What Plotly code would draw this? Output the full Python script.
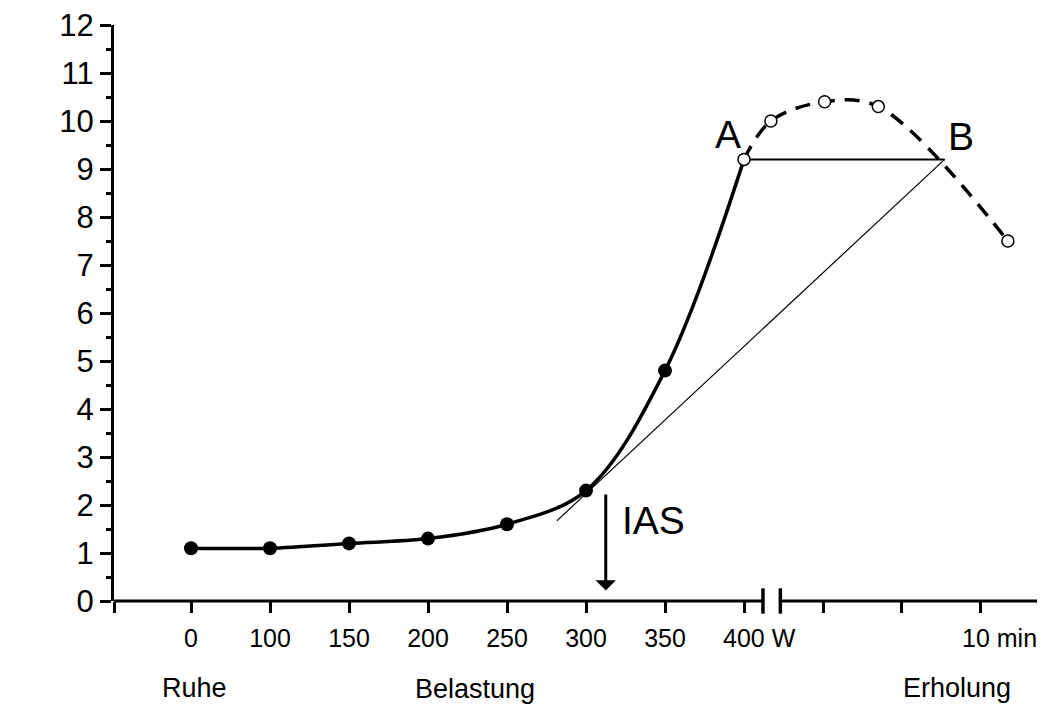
import plotly.graph_objects as go

# ---- data ----
load_labels = ["0", "100", "150", "200", "250", "300", "350", ""]
load_pos = [0, 1, 2, 3, 4, 5, 6, 7]
lactate_load = [1.1, 1.1, 1.2, 1.3, 1.6, 2.3, 4.8, 9.2]
last_load_label = "400 W"

rec_pos = [7.34, 8.02, 8.70, 10.34]
lactate_rec = [10.0, 10.4, 10.3, 7.5]
rec_tick_pos = [8, 9, 10]
rec_tick_labels = ["", "", ""]
rec_end_label = "10 min"

level_AB = 9.2
pos_A = 7
pos_B = 9.54
tangent_start = (4.63, 1.67)
ias_pos = 5.25
ias_top = 2.25

x_min, x_max = -0.975, 10.747
break_pos = (7.24, 7.46)
axis_end = 10.71

FONT = "Arial, Liberation Sans, sans-serif"
NARROW = "Liberation Sans Narrow, Arial Narrow, Liberation Sans, Arial, sans-serif"
BLACK = "#000000"

fig = go.Figure()

# thin construction lines
fig.add_trace(go.Scatter(x=[pos_A, pos_B], y=[level_AB, level_AB], mode="lines",
                         line=dict(color=BLACK, width=2), hoverinfo="skip"))
fig.add_trace(go.Scatter(x=[tangent_start[0], pos_B], y=[tangent_start[1], level_AB], mode="lines",
                         line=dict(color=BLACK, width=1.2), hoverinfo="skip"))

# main exercise curve
fig.add_trace(go.Scatter(x=load_pos, y=lactate_load, mode="lines",
                         line=dict(color=BLACK, width=3.5, shape="spline", smoothing=1.0),
                         hoverinfo="skip"))
# recovery dashed curve
fig.add_trace(go.Scatter(x=[load_pos[-1]] + rec_pos, y=[lactate_load[-1]] + lactate_rec, mode="lines",
                         line=dict(color=BLACK, width=3.5, shape="spline", smoothing=1.0,
                                   dash="15px,10px"),
                         hoverinfo="skip"))
# filled markers
fig.add_trace(go.Scatter(x=load_pos[:-1], y=lactate_load[:-1], mode="markers",
                         marker=dict(color=BLACK, size=14, symbol="circle"), hoverinfo="skip"))
# open markers
fig.add_trace(go.Scatter(x=[load_pos[-1]] + rec_pos, y=[lactate_load[-1]] + lactate_rec, mode="markers",
                         marker=dict(color="white", size=12, symbol="circle",
                                     line=dict(color=BLACK, width=1.5)),
                         hoverinfo="skip"))

# x axis line with break (shapes)
shapes = [
    dict(type="line", xref="x", yref="paper", x0=x_min, x1=break_pos[0], y0=0, y1=0,
         line=dict(color=BLACK, width=3)),
    dict(type="line", xref="x", yref="paper", x0=break_pos[1], x1=axis_end, y0=0, y1=0,
         line=dict(color=BLACK, width=3)),
    dict(type="line", xref="x", yref="paper", x0=break_pos[0], x1=break_pos[0], y0=-0.022, y1=0.022,
         line=dict(color=BLACK, width=3.5)),
    dict(type="line", xref="x", yref="paper", x0=break_pos[1], x1=break_pos[1], y0=-0.022, y1=0.022,
         line=dict(color=BLACK, width=3.5)),
]

annotations = [
    # IAS arrow
    dict(x=ias_pos, y=0.22, ax=ias_pos, ay=ias_top, xref="x", yref="y", axref="x", ayref="y",
         showarrow=True, arrowhead=1, arrowwidth=3, arrowsize=1.13, arrowcolor=BLACK, text=""),
    dict(x=5.43, y=1.67, xref="x", yref="y", text="IAS", showarrow=False, xanchor="left",
         font=dict(family=FONT, size=39, color=BLACK)),
    dict(x=6.80, y=9.71, xref="x", yref="y", text="A", showarrow=False,
         font=dict(family=FONT, size=39, color=BLACK)),
    dict(x=9.75, y=9.67, xref="x", yref="y", text="B", showarrow=False,
         font=dict(family=FONT, size=39, color=BLACK)),
    dict(x=6.71, y=-0.0635, xref="x", yref="paper", xanchor="left", yanchor="middle",
         text=last_load_label, showarrow=False, font=dict(family=NARROW, size=25, color=BLACK)),
    dict(x=10.23, y=-0.0635, xref="x", yref="paper", xanchor="center", yanchor="middle",
         text=rec_end_label, showarrow=False, font=dict(family=NARROW, size=25, color=BLACK)),
    dict(x=0.05, y=-0.151, xref="x", yref="paper", yanchor="middle", text="Ruhe", showarrow=False,
         font=dict(family=FONT, size=27, color=BLACK)),
    dict(x=3.6, y=-0.153, xref="x", yref="paper", yanchor="middle", text="Belastung", showarrow=False,
         font=dict(family=FONT, size=27, color=BLACK)),
    dict(x=9.7, y=-0.151, xref="x", yref="paper", yanchor="middle", text="Erholung", showarrow=False,
         font=dict(family=FONT, size=27, color=BLACK)),
    dict(x=-2.08, y=5.8, xref="x", yref="y", text="Laktat (mmol/l)", showarrow=False,
         textangle=-90, font=dict(family=FONT, size=34, color=BLACK)),
]

fig.update_layout(
    width=1045, height=706,
    margin=dict(l=114, r=5, t=25, b=105),
    paper_bgcolor="white", plot_bgcolor="white",
    showlegend=False,
    shapes=shapes, annotations=annotations,
    xaxis=dict(range=[x_min, x_max], showgrid=False, zeroline=False, showline=False,
               tickmode="array", tickvals=[x_min] + load_pos + rec_tick_pos,
               ticktext=[""] + load_labels + rec_tick_labels,
               ticks="outside", ticklen=11, tickwidth=3, tickcolor=BLACK,
               ticklabelstandoff=4,
               tickfont=dict(family=NARROW, size=25, color=BLACK)),
    yaxis=dict(range=[0, 12], showgrid=False, zeroline=False, showline=True,
               linewidth=3, linecolor=BLACK, tickmode="linear", tick0=0, dtick=1,
               ticks="outside", ticklen=11, tickwidth=3, tickcolor=BLACK,
               minor=dict(ticks="outside", ticklen=5, tickwidth=3, tickcolor=BLACK, dtick=0.5),
               tickfont=dict(family=FONT, size=31, color=BLACK)),
)

fig.write_html("out.html")
